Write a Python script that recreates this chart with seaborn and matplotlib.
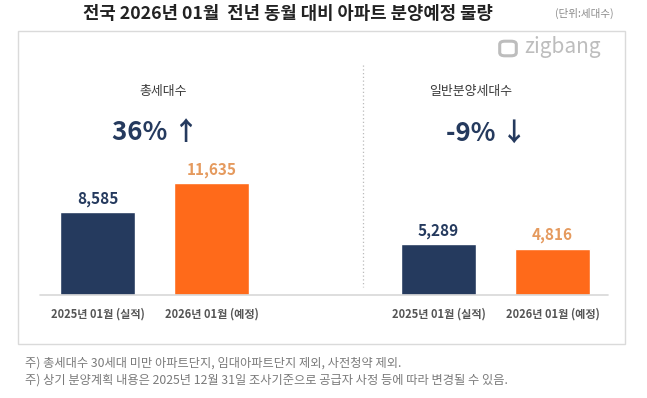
import numpy as np
import matplotlib.pyplot as plt
import pandas as pd
import seaborn as sns
from matplotlib.patches import Rectangle, FancyBboxPatch
from matplotlib.lines import Line2D

# data
periods = ['2025년 01월 (실적)', '2026년 01월 (예정)']
total_units = [8585, 11635]
general_units = [5289, 4816]
panel_titles = ['총세대수', '일반분양세대수']
changes = ['36% ↑', '-9% ↓']

navy = '#253A5E'
orange = '#FF6A1A'
orange_txt = '#E59A5E'

sns.set_theme(style='white')
plt.rcParams['font.family'] = ['Noto Sans CJK KR', 'DejaVu Sans']

W, H = 647, 398
fig = plt.figure(figsize=(W / 100, H / 100), dpi=100)
fig.patch.set_facecolor('white')

def px(x, y):
    return x / W, 1 - y / H

# outer box
fig.patches.append(Rectangle(px(18, 344), (625 - 18) / W, (344 - 31) / H,
                             transform=fig.transFigure, fill=False,
                             edgecolor='#DADADA', linewidth=1.0))

base_y = 295
top_y = 60
ymax = (base_y - top_y) * 104

panels = [
    (total_units, 40, 340, 97.5),
    (general_units, 340, 608, 438.5),
]
for vals, x0, x1, c0 in panels:
    l, b = px(x0, base_y)
    ax = fig.add_axes([l, b, (x1 - x0) / W, (base_y - top_y) / H])
    ax.patch.set_alpha(0)
    df = pd.DataFrame({'period': periods, 'units': vals})
    sns.barplot(data=df, x='period', y='units', hue='period',
                palette=[navy, orange], width=0.66, legend=False, ax=ax,
                saturation=1)
    unit = 114
    ax.set_xlim(-(c0 - x0) / unit, (x1 - c0) / unit)
    ax.set_ylim(0, ymax)
    sns.despine(ax=ax, left=True, bottom=True)
    ax.set_yticks([])
    ax.set_xlabel('')
    ax.set_ylabel('')
    ax.tick_params(axis='x', length=0, pad=9)
    for t in ax.get_xticklabels():
        t.set_fontsize(8)
        t.set_color('#555555')
        t.set_fontweight('bold')
    for i, v in enumerate(vals):
        ax.annotate(f'{v:,}', (i, v), xytext=(0, 4), textcoords='offset points',
                    ha='center', va='bottom', fontsize=11, fontweight='bold',
                    color=navy if i == 0 else orange_txt)

# baseline across both panels
fig.add_artist(Line2D([40 / W, 608 / W], [1 - base_y / H] * 2,
                     transform=fig.transFigure, color='#D8D8D8', linewidth=1.2))

# panel headings
fig.text(*px(163, 92), panel_titles[0], ha='center', va='center',
         fontsize=9.3, color='#3A3A3A', fontweight='medium')
fig.text(*px(471, 92), panel_titles[1], ha='center', va='center',
         fontsize=9.3, color='#3A3A3A', fontweight='medium')
fig.text(*px(155, 133), changes[0], ha='center', va='center',
         fontsize=18.5, color=navy, fontweight='bold')
fig.text(*px(487, 133), changes[1], ha='center', va='center',
         fontsize=18.5, color=navy, fontweight='bold')

# dotted separator
fig.add_artist(Line2D([363 / W, 363 / W], [1 - 65 / H, 1 - 287 / H],
                     transform=fig.transFigure, color='#BBBBBB',
                     linestyle=(0, (1, 2)), linewidth=0.9))

# title and unit
fig.text(*px(288, 14), '전국 2026년 01월  전년 동월 대비 아파트 분양예정 물량',
         ha='center', va='center', fontsize=12.8, fontweight='bold', color='#222222')
fig.text(*px(584, 13), '(단위:세대수)', ha='center', va='center',
         fontsize=7.6, color='#8A8A8A')

# zigbang logo
fig.patches.append(FancyBboxPatch(px(501, 55), 14 / W, 13 / H,
                                  boxstyle='round,pad=0.002,rounding_size=0.008',
                                  transform=fig.transFigure, fill=False,
                                  edgecolor='#BDBDBD', linewidth=2.2))
fig.text(*px(524, 47), 'zigbang', ha='left', va='center',
         fontsize=15, color='#BDBDBD', fontweight='medium')

# notes
fig.text(*px(25, 363), '주) 총세대수 30세대 미만 아파트단지, 임대아파트단지 제외, 사전청약 제외.',
         ha='left', va='center', fontsize=8.8, color='#7A7A7A')
fig.text(*px(25, 380), '주) 상기 분양계획 내용은 2025년 12월 31일 조사기준으로 공급자 사정 등에 따라 변경될 수 있음.',
         ha='left', va='center', fontsize=8.8, color='#7A7A7A')

fig.savefig('out.png', dpi=100)
